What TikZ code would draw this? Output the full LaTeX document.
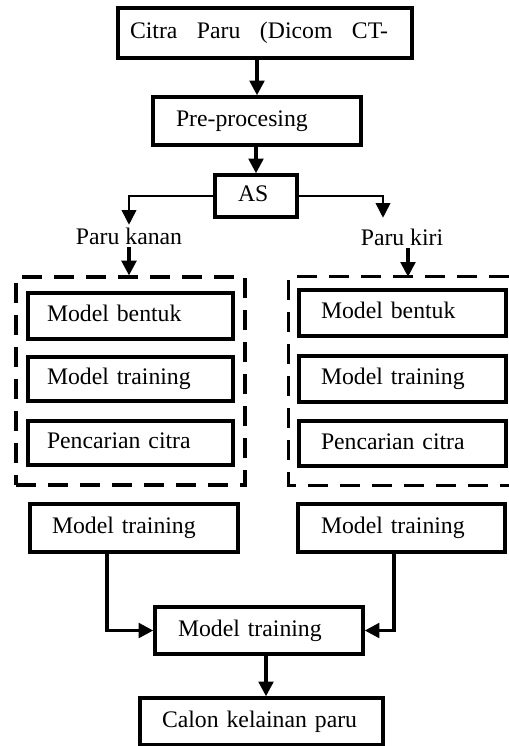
\documentclass[tikz,border=0pt]{standalone}
\usepackage{fontspec}
\setmainfont{Liberation Serif}
\usetikzlibrary{arrows.meta}
\begin{document}
\begin{tikzpicture}[x=0.75pt,y=-0.75pt,
  font=\fontsize{17.8}{20}\selectfont,
  box/.style={draw, line width=2.6pt, inner ysep=0pt, align=left, text height=0.85em, text depth=0pt},
  dashline/.style={line width=2.4pt, dash pattern=on 15pt off 9pt},
  dashbox/.style={draw, dashline, inner sep=0pt},
  lbl/.style={inner sep=2pt},
  arr/.style={line width=2.4pt, -{Triangle[length=11pt,width=11pt]}},
  thinarr/.style={line width=1.2pt, -{Triangle[length=11pt,width=11pt]}}]
\useasboundingbox (0,0) rectangle (509,746);

\node[box, text width=202.5pt, inner xsep=9pt, minimum height=37.5pt] (A) at (265,33) {\makebox[193.5pt][l]{Citra\hfill Paru\hfill (Dicom\hfill CT-}};
\node[box, text width=121.5pt, inner xsep=17.25pt, minimum height=36pt] (B) at (257,121) {Pre-procesing};
\node[box, text width=27pt, inner xsep=17.25pt, minimum height=31.5pt] (C) at (256,196) {AS};

\node[lbl] (pk) at (129,236) {Paru kanan};
\node[lbl] (pki) at (402,237) {Paru kiri};

\node[dashbox, minimum width=171.75pt, minimum height=156pt] (LD) at (130.5,381) {};
\node[inner sep=0pt, minimum width=165pt, minimum height=156pt] (RD) at (399,381) {};
\draw[dashline] (RD.north east) -- (RD.north west) -- (RD.south west) -- (RD.south east);

\node[box, text width=125.25pt, inner xsep=14.25pt, minimum height=34.5pt] (D1) at (130.5,316) {Model bentuk};
\node[box, text width=125.25pt, inner xsep=14.25pt, minimum height=33pt] (D2) at (130.5,379) {Model training};
\node[box, text width=125.25pt, inner xsep=14.25pt, minimum height=33pt] (D3) at (130.5,443) {Pencarian citra};

\node[box, text width=122.25pt, inner xsep=16.5pt, minimum height=34.5pt] (E1) at (402.5,313) {Model bentuk};
\node[box, text width=122.25pt, inner xsep=16.5pt, minimum height=34.5pt] (E2) at (402.5,379) {Model training};
\node[box, text width=122.25pt, inner xsep=16.5pt, minimum height=33.75pt] (E3) at (402.5,443.5) {Pencarian citra};

\node[box, text width=123pt, inner xsep=16.5pt, minimum height=36pt] (F) at (134,528) {Model training};
\node[box, text width=120.75pt, inner xsep=17.25pt, minimum height=36pt] (G) at (401.5,528) {Model training};
\node[box, text width=121.5pt, inner xsep=17.25pt, minimum height=35.25pt] (H) at (259,630.5) {Model training};
\node[box, text width=149.25pt, inner xsep=16.5pt, minimum height=35.25pt] (I) at (261.5,721.5) {Calon kelainan paru};

\draw[arr] (B.north |- A.south) -- (B.north);
\draw[arr] (C.north |- B.south) -- (C.north);
\draw[thinarr] (C.west) -| (pk.north);
\draw[thinarr] (C.east) -| ([shift={(-19,-8)}]pki.north);
\draw[arr] (pk.south) -- (pk.south |- LD.north);
\draw[arr] ([shift={(6,0)}]pki.south) -- ([shift={(6,0)}]pki.south |- RD.north);

\draw[arr] ([shift={(-27,0)}]F.south) |- (H.west);
\draw[arr] ([shift={(-7.5,0)}]G.south) |- (H.east);
\draw[arr] ([shift={(7,0)}]H.south) -- ([shift={(7,0)}]H.south |- I.north);
\end{tikzpicture}
\end{document}
